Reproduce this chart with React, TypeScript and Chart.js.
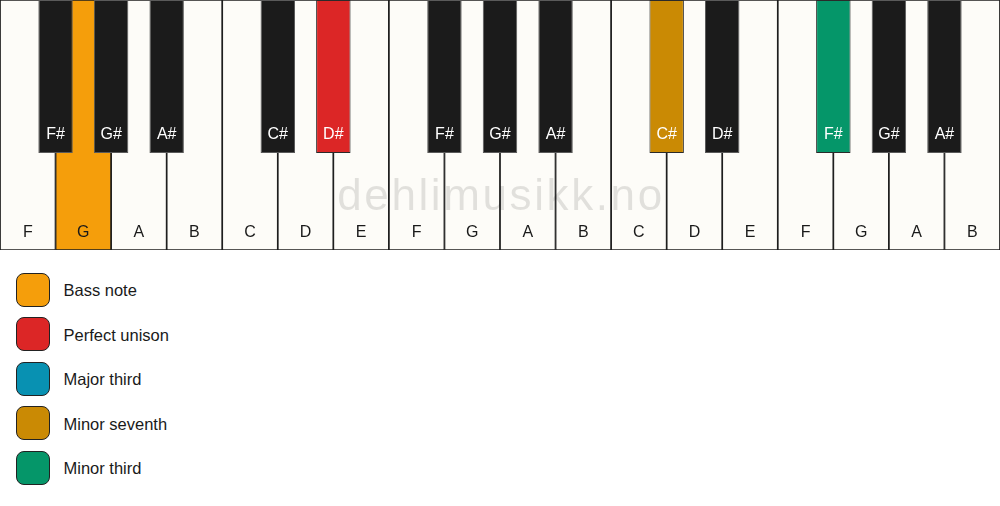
import React, { useEffect, useRef } from 'react';
import { Chart, registerables } from 'chart.js';

Chart.register(...registerables);

// keyboard, left to right
const whiteNotes = ['F', 'G', 'A', 'B', 'C', 'D', 'E', 'F', 'G', 'A', 'B', 'C', 'D', 'E', 'F', 'G', 'A', 'B'];
const blackNotes = ['F#', 'G#', 'A#', 'C#', 'D#', 'F#', 'G#', 'A#', 'C#', 'D#', 'F#', 'G#', 'A#'];
// black key sits on the boundary after this many white keys
const blackBoundaries = [1, 2, 3, 5, 6, 8, 9, 10, 12, 13, 15, 16, 17];

// interval role per key (null = not played)
const whiteRoles: (string | null)[] = [null, 'Bass note', null, null, null, null, null, null, null, null, null, null, null, null, null, null, null, null];
const blackRoles: (string | null)[] = [null, null, null, null, 'Perfect unison', null, null, null, 'Minor seventh', null, 'Minor third', null, null];

const intervalNames = ['Bass note', 'Perfect unison', 'Major third', 'Minor seventh', 'Minor third'];
const intervalColors = ['#f59e0b', '#dc2626', '#0891b2', '#ca8a04', '#059669'];

const WHITE_LEN = 250;
const BLACK_LEN = 153;

const colorFor = (role: string | null, fallback: string) =>
  role ? intervalColors[intervalNames.indexOf(role)] : fallback;

const KeyboardChart: React.FC = () => {
  const chartRef = useRef<HTMLCanvasElement>(null);
  const chartInstance = useRef<Chart | null>(null);

  useEffect(() => {
    if (chartInstance.current) {
      chartInstance.current.destroy();
    }
    if (!chartRef.current) return;
    const ctx = chartRef.current.getContext('2d');
    if (!ctx) return;

    const keyLabels = {
      id: 'keyLabels',
      afterDatasetDraw(chart: any, args: any) {
        // watermark goes over the white keys, under the black ones
        if (args.index !== 0) return;
        const { ctx, chartArea } = chart;
        ctx.save();
        ctx.font = '44px "Liberation Sans", Arial, sans-serif';
        // @ts-ignore
        ctx.letterSpacing = '2.6px';
        ctx.fillStyle = 'rgba(0,0,0,0.11)';
        ctx.textAlign = 'center';
        ctx.textBaseline = 'alphabetic';
        ctx.fillText('dehlimusikk.no', (chartArea.left + chartArea.right) / 2 + 1, 210);
        ctx.restore();
      },
      afterDatasetsDraw(chart: any) {
        const { ctx } = chart;
        const x = chart.scales.x;
        const x2 = chart.scales.x2;
        const y = chart.scales.y;
        ctx.save();
        ctx.font = '16px "Liberation Sans", Arial, sans-serif';
        ctx.textAlign = 'center';
        ctx.textBaseline = 'middle';
        ctx.fillStyle = '#1a1a1a';
        whiteNotes.forEach((n, i) => {
          ctx.fillText(n, x.getPixelForValue(i + 0.5), y.getPixelForValue(232.5));
        });
        ctx.fillStyle = '#ffffff';
        blackNotes.forEach((n, i) => {
          ctx.fillText(n, x2.getPixelForValue(blackBoundaries[i]), y.getPixelForValue(134.5));
        });
        ctx.restore();
      },
    };

    // @ts-ignore
    chartInstance.current = new Chart(ctx, {
      type: 'bar',
      data: {
        datasets: [
          {
            label: 'white',
            xAxisID: 'x',
            order: 1,
            data: whiteNotes.map((_, i) => ({ x: i + 0.5, y: [0, WHITE_LEN] })),
            backgroundColor: whiteRoles.map((r) => colorFor(r, '#fdfcf8')),
            borderColor: '#1e1e1e',
            borderWidth: 1.2,
            borderSkipped: false,
            barPercentage: 1,
            categoryPercentage: 1,
            grouped: false,
          },
          {
            label: 'black',
            xAxisID: 'x2',
            order: 0,
            data: blackNotes.map((_, i) => ({ x: blackBoundaries[i], y: [0, BLACK_LEN] })),
            backgroundColor: blackRoles.map((r) => colorFor(r, '#1b1b1b')),
            borderColor: blackRoles.map((r) => (r ? '#2a2a2a' : '#5a5a5a')),
            borderWidth: 1,
            borderSkipped: false,
            barPercentage: 0.62,
            categoryPercentage: 1,
            grouped: false,
          },
        ],
      },
      options: {
        responsive: false,
        maintainAspectRatio: false,
        animation: false,
        events: [],
        layout: { padding: 0 },
        plugins: {
          legend: { display: false },
          tooltip: { enabled: false },
        },
        scales: {
          x: { type: 'linear', min: 0, max: whiteNotes.length, offset: false, display: false, ticks: { stepSize: 1 } },
          x2: { type: 'linear', min: 0, max: whiteNotes.length, offset: false, display: false, ticks: { stepSize: 1 } },
          y: { type: 'linear', min: 0, max: WHITE_LEN, reverse: true, display: false },
        },
      },
      plugins: [keyLabels],
    });

    return () => {
      if (chartInstance.current) {
        chartInstance.current.destroy();
        chartInstance.current = null;
      }
    };
  }, []);

  return <canvas ref={chartRef} width={1000} height={250} style={{ display: 'block' }}></canvas>;
};

const App: React.FC = () => {
  useEffect(() => {
    document.body.style.margin = '0';
    document.body.style.background = '#ffffff';
  }, []);

  return (
    <div style={{ width: 1000, height: 506, fontFamily: '"Liberation Sans", Arial, sans-serif' }}>
      <KeyboardChart />
      <div style={{ paddingTop: 22, paddingLeft: 15.5 }}>
        {intervalNames.map((name, i) => (
          <div key={name} style={{ display: 'flex', alignItems: 'center', height: 35, marginBottom: 9.5 }}>
            <div
              style={{
                width: 32,
                height: 32,
                background: intervalColors[i],
                border: '1.6px solid #222222',
                borderRadius: 8,
              }}
            />
            <span style={{ marginLeft: 14, fontSize: 16.5, color: '#1a1a1a', position: 'relative', top: 1 }}>{name}</span>
          </div>
        ))}
      </div>
    </div>
  );
};

export default App;
